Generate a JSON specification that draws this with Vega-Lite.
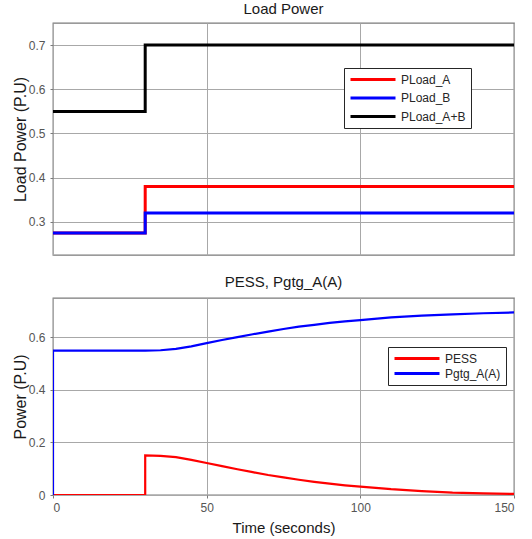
{
  "$schema": "https://vega.github.io/schema/vega-lite/v6.json",
  "padding": {"left": 11, "top": 1, "right": 9, "bottom": 4},
  "bounds": "flush",
  "spacing": 43,
  "background": "white",
  "config": {
    "font": "Liberation Sans",
    "view": {"stroke": "#7a7a7a", "strokeWidth": 1.3},
    "axis": {
      "domain": false,
      "grid": true,
      "gridColor": "#a8a8a8",
      "gridWidth": 1,
      "tickColor": "#7a7a7a",
      "tickSize": 3,
      "labelFont": "Liberation Sans",
      "labelFontSize": 12,
      "labelColor": "#555555",
      "titleFont": "Liberation Sans",
      "titleFontSize": 16,
      "titleFontWeight": "normal",
      "titleColor": "#1a1a1a"
    },
    "title": {"font": "Liberation Sans", "fontSize": 15, "fontWeight": "normal", "color": "#1a1a1a"},
    "legend": {
      "orient": "none",
      "title": null,
      "symbolType": "stroke",
      "symbolSize": 2025,
      "symbolStrokeWidth": 3,
      "clipHeight": 13,
      "strokeColor": "#262626",
      "fillColor": "white",
      "padding": 5,
      "labelFont": "Liberation Sans",
      "labelFontSize": 12,
      "labelColor": "#262626",
      "labelOffset": 4
    }
  },
  "resolve": {"scale": {"color": "independent"}, "legend": {"color": "independent"}},
  "vconcat": [
    {
      "width": 461,
      "height": 232,
      "title": {"text": "Load Power", "offset": 6},
      "data": {"values": [
        {"s": "PLoad_A", "i": 0, "t": 0, "p": 0.275},
        {"s": "PLoad_A", "i": 1, "t": 30, "p": 0.275},
        {"s": "PLoad_A", "i": 2, "t": 30, "p": 0.38},
        {"s": "PLoad_A", "i": 3, "t": 150, "p": 0.38},
        {"s": "PLoad_B", "i": 0, "t": 0, "p": 0.275},
        {"s": "PLoad_B", "i": 1, "t": 30, "p": 0.275},
        {"s": "PLoad_B", "i": 2, "t": 30, "p": 0.32},
        {"s": "PLoad_B", "i": 3, "t": 150, "p": 0.32},
        {"s": "PLoad_A+B", "i": 0, "t": 0, "p": 0.55},
        {"s": "PLoad_A+B", "i": 1, "t": 30, "p": 0.55},
        {"s": "PLoad_A+B", "i": 2, "t": 30, "p": 0.70},
        {"s": "PLoad_A+B", "i": 3, "t": 150, "p": 0.70}
      ]},
      "mark": {"type": "line", "strokeWidth": 3, "clip": true},
      "encoding": {
        "x": {"field": "t", "type": "quantitative", "scale": {"domain": [0, 150], "nice": false},
              "axis": {"values": [0, 50, 100, 150], "labels": false, "ticks": false, "title": null}},
        "y": {"field": "p", "type": "quantitative", "scale": {"domain": [0.225, 0.75], "nice": false, "zero": false},
              "axis": {"values": [0.3, 0.4, 0.5, 0.6, 0.7], "format": ".1f", "title": "Load Power (P.U)", "labelPadding": 5, "titlePadding": 0}},
        "color": {"field": "s", "type": "nominal",
                  "scale": {"domain": ["PLoad_A", "PLoad_B", "PLoad_A+B"], "range": ["#ff0000", "#0000ff", "#000000"]},
                  "legend": {"legendX": 291, "legendY": 45, "rowPadding": 5.5, "columns": 1}},
        "order": {"field": "i", "type": "quantitative"}
      }
    },
    {
      "width": 461,
      "height": 197,
      "title": {"text": "PESS, Pgtg_A(A)", "offset": 8},
      "data": {"values": [
        {"s": "PESS", "i": 0, "t": 0, "p": 0},
        {"s": "PESS", "i": 1, "t": 30, "p": 0},
        {"s": "PESS", "i": 2, "t": 30, "p": 0.151},
        {"s": "PESS", "i": 3, "t": 35, "p": 0.149},
        {"s": "PESS", "i": 4, "t": 40, "p": 0.144},
        {"s": "PESS", "i": 5, "t": 45, "p": 0.134},
        {"s": "PESS", "i": 6, "t": 50, "p": 0.122},
        {"s": "PESS", "i": 7, "t": 55, "p": 0.110},
        {"s": "PESS", "i": 8, "t": 60, "p": 0.098},
        {"s": "PESS", "i": 9, "t": 65, "p": 0.087},
        {"s": "PESS", "i": 10, "t": 70, "p": 0.076},
        {"s": "PESS", "i": 11, "t": 75, "p": 0.067},
        {"s": "PESS", "i": 12, "t": 80, "p": 0.058},
        {"s": "PESS", "i": 13, "t": 85, "p": 0.050},
        {"s": "PESS", "i": 14, "t": 90, "p": 0.043},
        {"s": "PESS", "i": 15, "t": 95, "p": 0.037},
        {"s": "PESS", "i": 16, "t": 100, "p": 0.032},
        {"s": "PESS", "i": 17, "t": 110, "p": 0.022},
        {"s": "PESS", "i": 18, "t": 120, "p": 0.015},
        {"s": "PESS", "i": 19, "t": 130, "p": 0.009},
        {"s": "PESS", "i": 20, "t": 140, "p": 0.006},
        {"s": "PESS", "i": 21, "t": 150, "p": 0.004},
        {"s": "Pgtg_A(A)", "i": 0, "t": 0, "p": 0},
        {"s": "Pgtg_A(A)", "i": 1, "t": 0, "p": 0.550},
        {"s": "Pgtg_A(A)", "i": 2, "t": 30, "p": 0.550},
        {"s": "Pgtg_A(A)", "i": 3, "t": 35, "p": 0.551},
        {"s": "Pgtg_A(A)", "i": 4, "t": 40, "p": 0.556},
        {"s": "Pgtg_A(A)", "i": 5, "t": 45, "p": 0.566},
        {"s": "Pgtg_A(A)", "i": 6, "t": 50, "p": 0.578},
        {"s": "Pgtg_A(A)", "i": 7, "t": 55, "p": 0.590},
        {"s": "Pgtg_A(A)", "i": 8, "t": 60, "p": 0.601},
        {"s": "Pgtg_A(A)", "i": 9, "t": 65, "p": 0.612},
        {"s": "Pgtg_A(A)", "i": 10, "t": 70, "p": 0.622},
        {"s": "Pgtg_A(A)", "i": 11, "t": 75, "p": 0.632},
        {"s": "Pgtg_A(A)", "i": 12, "t": 80, "p": 0.641},
        {"s": "Pgtg_A(A)", "i": 13, "t": 85, "p": 0.648},
        {"s": "Pgtg_A(A)", "i": 14, "t": 90, "p": 0.655},
        {"s": "Pgtg_A(A)", "i": 15, "t": 95, "p": 0.661},
        {"s": "Pgtg_A(A)", "i": 16, "t": 100, "p": 0.666},
        {"s": "Pgtg_A(A)", "i": 17, "t": 110, "p": 0.676},
        {"s": "Pgtg_A(A)", "i": 18, "t": 120, "p": 0.683},
        {"s": "Pgtg_A(A)", "i": 19, "t": 130, "p": 0.688},
        {"s": "Pgtg_A(A)", "i": 20, "t": 140, "p": 0.692},
        {"s": "Pgtg_A(A)", "i": 21, "t": 150, "p": 0.695}
      ]},
      "mark": {"type": "line", "strokeWidth": 2.2, "clip": true},
      "encoding": {
        "x": {"field": "t", "type": "quantitative", "scale": {"domain": [0, 150], "nice": false},
              "axis": {"values": [0, 50, 100, 150], "title": "Time (seconds)", "titleFontSize": 15, "labelPadding": 4, "titlePadding": 7}},
        "y": {"field": "p", "type": "quantitative", "scale": {"domain": [0, 0.75], "nice": false},
              "axis": {"values": [0, 0.2, 0.4, 0.6], "format": "~g", "title": "Power (P.U)", "labelPadding": 5, "titlePadding": 0}},
        "color": {"field": "s", "type": "nominal",
                  "scale": {"domain": ["PESS", "Pgtg_A(A)"], "range": ["#ff0000", "#0000ff"]},
                  "legend": {"legendX": 335, "legendY": 49, "rowPadding": 2, "columns": 1}},
        "order": {"field": "i", "type": "quantitative"}
      }
    }
  ]
}
